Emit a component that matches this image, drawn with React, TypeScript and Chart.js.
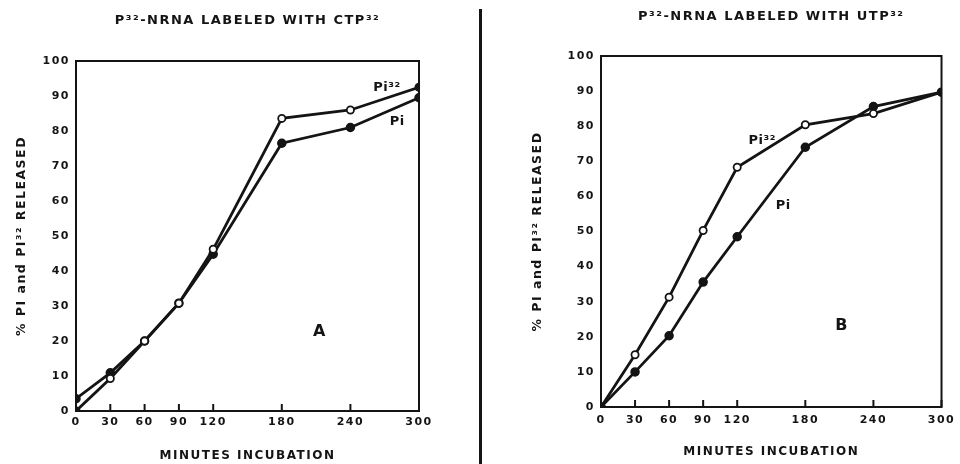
import React, { useEffect, useRef } from "react";
import { Chart, registerables } from "chart.js";

Chart.register(...registerables);

// ---------- data ----------
const minutes = [0, 30, 60, 90, 120, 180, 240, 300];
const xTickValues = [0, 30, 60, 90, 120, 180, 240, 300];
const yMax = 100;
const yStep = 10;

// Panel A: P32-NRNA labeled with CTP32
const ctpPi = [3.5, 10.9, 20, 30.8, 44.8, 76.5, 81, 89.5];
const ctpPi32 = [0, 9.3, 20, 30.8, 46.2, 83.6, 86, 92.5];

// Panel B: P32-NRNA labeled with UTP32
const utpPi = [0, 10, 20.3, 35.6, 48.5, 74, 85.6, 89.7];
const utpPi32 = [0, 14.9, 31.3, 50.3, 68.3, 80.4, 83.6, 89.7];

const titleA = "P\u00b3\u00b2-NRNA LABELED WITH CTP\u00b3\u00b2";
const titleB = "P\u00b3\u00b2-NRNA LABELED WITH UTP\u00b3\u00b2";
const xAxisTitle = "MINUTES INCUBATION";
const yAxisTitle = "% PI and PI\u00b3\u00b2 RELEASED";

type Note = { text: string; x: number; y: number; size: number };
const notesA: Note[] = [
  { text: "Pi\u00b3\u00b2", x: 272, y: 92.3, size: 13 },
  { text: "Pi", x: 281, y: 82.6, size: 13 },
  { text: "A", x: 213, y: 22.6, size: 16 },
];
const notesB: Note[] = [
  { text: "Pi\u00b3\u00b2", x: 142, y: 76, size: 13 },
  { text: "Pi", x: 160.5, y: 57.5, size: 13 },
  { text: "B", x: 212, y: 23, size: 16 },
];

// ---------- styling ----------
const INK = "#141414";
const FONT = "'DejaVu Sans', 'Liberation Sans', sans-serif";
const H = 464;

type PanelSpec = {
  title: string;
  pi: number[];
  pi32: number[];
  pi32Fill: string[];
  notes: Note[];
  left: number;
  width: number;
  plotLeft: number;
  plotRight: number;
  plotTop: number;
  plotBottom: number;
  titleCenterY: number;
  yTitleCenterX: number;
  xLabelPad: number;
  xTitleBottomPad: number;
};

const W = "#ffffff";
const panels: PanelSpec[] = [
  {
    title: titleA,
    pi: ctpPi,
    pi32: ctpPi32,
    pi32Fill: [INK, W, W, W, W, W, W, INK],
    notes: notesA,
    left: 0,
    width: 480,
    plotLeft: 76,
    plotRight: 419,
    plotTop: 61,
    plotBottom: 411,
    titleCenterY: 21,
    yTitleCenterX: 22,
    xLabelPad: 5,
    xTitleBottomPad: 1,
  },
  {
    title: titleB,
    pi: utpPi,
    pi32: utpPi32,
    pi32Fill: [INK, W, W, W, W, W, W, INK],
    notes: notesB,
    left: 482,
    width: 478,
    plotLeft: 119,
    plotRight: 461,
    plotTop: 56,
    plotBottom: 407,
    titleCenterY: 16.5,
    yTitleCenterX: 56,
    xLabelPad: 7,
    xTitleBottomPad: 5,
  },
];

const spacingPlugin = {
  id: "spacing",
  beforeDraw(chart: any) {
    (chart.ctx as any).letterSpacing = "1.5px";
  },
};

const framePlugin = {
  id: "frame",
  afterDraw(chart: any, _args: any, opts: any) {
    const { ctx, chartArea, scales } = chart;
    ctx.save();
    // panel title, centred over the plot
    ctx.fillStyle = INK;
    ctx.textAlign = "center";
    ctx.textBaseline = "middle";
    (ctx as any).letterSpacing = "1.5px";
    ctx.font = `bold 13px ${FONT}`;
    ctx.fillText(opts.title, (chartArea.left + chartArea.right) / 2, opts.titleY);

    ctx.strokeStyle = INK;
    ctx.lineWidth = 2;
    ctx.strokeRect(
      chartArea.left,
      chartArea.top,
      chartArea.right - chartArea.left,
      chartArea.bottom - chartArea.top
    );
    // inward tick marks on the x axis
    for (const v of xTickValues) {
      const px = scales.x.getPixelForValue(v);
      ctx.beginPath();
      ctx.moveTo(px, chartArea.bottom);
      ctx.lineTo(px, chartArea.bottom - 7);
      ctx.stroke();
    }
    // annotations
    (ctx as any).letterSpacing = "0.5px";
    for (const n of opts.notes as Note[]) {
      ctx.font = `bold ${n.size}px ${FONT}`;
      ctx.fillText(n.text, scales.x.getPixelForValue(n.x), scales.y.getPixelForValue(n.y));
    }
    ctx.restore();
  },
};

function Panel({ spec }: { spec: PanelSpec }) {
  const ref = useRef<HTMLCanvasElement | null>(null);
  useEffect(() => {
    if (!ref.current) return;
    const tickFont = { family: FONT, size: 11, weight: "bold" as const };
    const axisTitleFont = { family: FONT, size: 12, weight: "bold" as const };
    const yTitleFont = { family: FONT, size: 12.5, weight: "bold" as const };
    const chart = new Chart(ref.current, {
      type: "line",
      data: {
        labels: minutes,
        datasets: [
          {
            label: "Pi32",
            data: minutes.map((m, i) => ({ x: m, y: spec.pi32[i] })),
            borderColor: INK,
            borderWidth: 2.8,
            pointRadius: 3.6,
            pointBorderWidth: 1.8,
            pointBorderColor: INK,
            pointBackgroundColor: spec.pi32Fill,
            tension: 0,
          },
          {
            label: "Pi",
            data: minutes.map((m, i) => ({ x: m, y: spec.pi[i] })),
            borderColor: INK,
            borderWidth: 2.8,
            pointRadius: 4,
            pointBorderWidth: 1.5,
            pointBorderColor: INK,
            pointBackgroundColor: INK,
            tension: 0,
          },
        ],
      },
      options: {
        animation: false,
        responsive: false,
        maintainAspectRatio: false,
        layout: {
          padding: { left: 0, right: spec.width - spec.plotRight, top: spec.plotTop, bottom: 0 },
        },
        plugins: {
          legend: { display: false },
          tooltip: { enabled: false },
          title: { display: false },
          frame: { notes: spec.notes, title: spec.title, titleY: spec.titleCenterY },
        } as any,
        scales: {
          x: {
            type: "linear",
            min: 0,
            max: 300,
            grid: { display: false, drawTicks: false },
            border: { display: false },
            afterBuildTicks: (s: any) => {
              s.ticks = xTickValues.map((v) => ({ value: v }));
            },
            afterFit: (s: any) => {
              s.height = H - spec.plotBottom;
            },
            ticks: {
              color: INK,
              font: tickFont,
              padding: spec.xLabelPad,
              autoSkip: false,
              maxRotation: 0,
            },
            title: {
              display: true,
              text: xAxisTitle,
              color: INK,
              font: axisTitleFont,
              padding: { top: 0, bottom: spec.xTitleBottomPad },
            },
          },
          y: {
            type: "linear",
            min: 0,
            max: yMax,
            grid: { display: false, drawTicks: false },
            border: { display: false },
            afterFit: (s: any) => {
              s.width = spec.plotLeft;
            },
            ticks: {
              stepSize: yStep,
              color: INK,
              font: tickFont,
              padding: 6,
            },
            title: {
              display: true,
              text: yAxisTitle,
              color: INK,
              font: yTitleFont,
              padding: { top: spec.yTitleCenterX - 7.5, bottom: 0 },
            },
          },
        },
      },
      plugins: [spacingPlugin, framePlugin],
    });
    return () => chart.destroy();
  }, [spec]);
  return (
    <canvas
      ref={ref}
      width={spec.width}
      height={H}
      style={{ position: "absolute", left: spec.left, top: 0, width: spec.width, height: H, display: "block" }}
    />
  );
}

export default function App() {
  return (
    <div
      style={{
        position: "fixed",
        left: 0,
        top: 0,
        width: 960,
        height: H,
        background: "#ffffff",
        overflow: "hidden",
      }}
    >
      <Panel spec={panels[0]} />
      <Panel spec={panels[1]} />
      <div
        style={{
          position: "absolute",
          left: 479,
          top: 9,
          width: 3,
          height: H - 9,
          background: INK,
        }}
      />
    </div>
  );
}
